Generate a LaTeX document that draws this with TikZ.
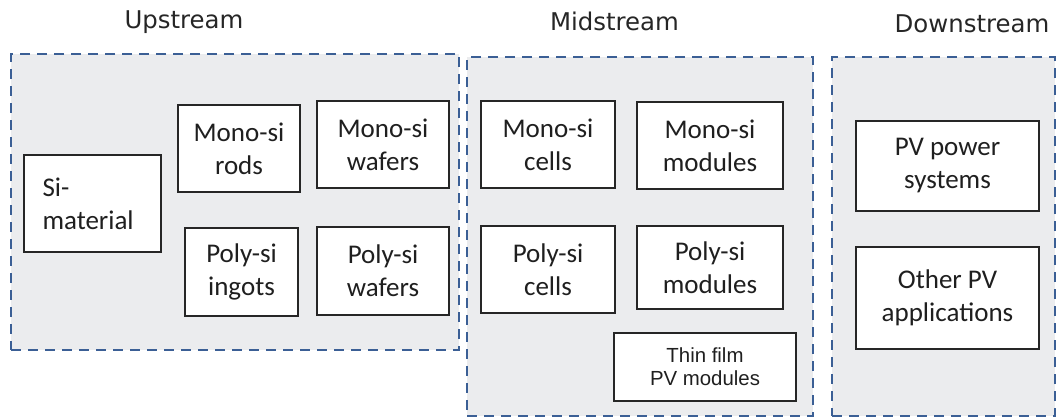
\documentclass[tikz,border=0pt]{standalone}
\usepackage{fontspec}
\newfontfamily\calfont{Carlito}
\newfontfamily\verdfont{DejaVu Sans}
\newfontfamily\arifont{Liberation Sans}
\definecolor{dashblue}{HTML}{3B5F95}
\definecolor{regionfill}{HTML}{EBECEE}
\begin{document}
\begin{tikzpicture}[x=1pt,y=-1pt,
  region/.style={draw=dashblue, fill=regionfill, line width=2.7pt, dash pattern=on 10pt off 7pt, inner sep=0pt, rectangle},
  itembox/.style={draw=black!85, fill=white, line width=2pt, align=center, inner sep=0pt,
    font=\calfont\fontsize{27}{33}\selectfont, text=black!88},
  title/.style={anchor=base, inner sep=0pt, font=\verdfont\fontsize{24.4}{29}\selectfont, text=black!85}
]
\useasboundingbox (0,0) rectangle (1057,418);
% regions
\node[region, minimum width=448pt, minimum height=296pt] (up) at (235,202) {};
\node[region, minimum width=346pt, minimum height=359pt] (mid) at (640,236.5) {};
\node[region, minimum width=223pt, minimum height=359pt] (down) at (943.5,236.5) {};
% titles
\node[title] (tup) at (184,28) {Upstream};
\node[title] (tmid) at (614.5,30) {Midstream};
\node[title] (tdown) at (972,32) {Downstream};
% upstream
\node[itembox, line width=2.6pt, minimum width=137pt, minimum height=97pt, align=left, text width=100pt] (si) at (92.5,203.5) {Si-\\material};
\node[itembox, minimum width=122pt, minimum height=87pt] (mrods) at (239,148.5) {Mono-si\\rods};
\node[itembox, minimum width=132pt, minimum height=87pt] (mwaf) at (383,144.5) {Mono-si\\wafers};
\node[itembox, minimum width=113pt, minimum height=88pt] (pingot) at (241.5,272) {Poly-si\\ingots};
\node[itembox, minimum width=132pt, minimum height=88pt] (pwaf) at (383,271) {Poly-si\\wafers};
% midstream
\node[itembox, minimum width=134pt, minimum height=87pt] (mcells) at (548,144.5) {Mono-si\\cells};
\node[itembox, minimum width=146pt, minimum height=87pt] (mmod) at (710,145.5) {Mono-si\\modules};
\node[itembox, minimum width=134pt, minimum height=87pt] (pcells) at (548,269.5) {Poly-si\\cells};
\node[itembox, minimum width=146pt, minimum height=83pt] (pmod) at (710,267.5) {Poly-si\\modules};
\node[itembox, minimum width=182pt, minimum height=68pt, font=\arifont\fontsize{20.4}{23}\selectfont] (thin) at (705,367) {Thin film\\PV modules};
% downstream
\node[itembox, minimum width=183pt, minimum height=90pt] (pvps) at (947.5,166) {PV power\\systems};
\node[itembox, minimum width=183pt, minimum height=102pt] (other) at (947.5,298) {Other PV\\applications};
\end{tikzpicture}
\end{document}
